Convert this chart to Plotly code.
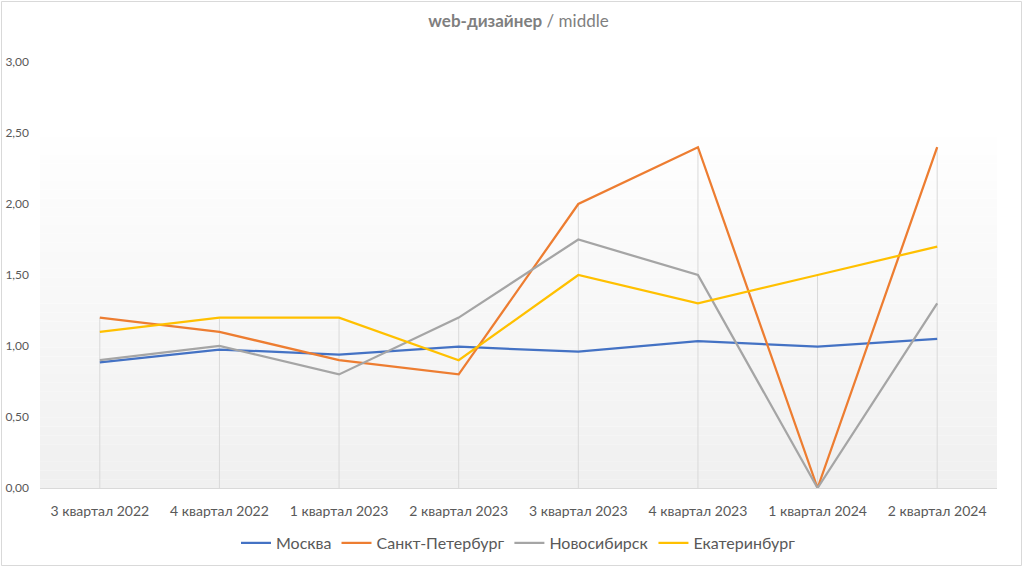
import plotly.graph_objects as go

categories = ["3 квартал 2022", "4 квартал 2022", "1 квартал 2023", "2 квартал 2023",
              "3 квартал 2023", "4 квартал 2023", "1 квартал 2024", "2 квартал 2024"]
moskva = [0.885, 0.975, 0.94, 0.995, 0.96, 1.035, 0.995, 1.05]
spb = [1.2, 1.1, 0.9, 0.8, 2.0, 2.4, 0.0, 2.4]
novosib = [0.9, 1.0, 0.8, 1.2, 1.75, 1.5, 0.0, 1.3]
ekb = [1.1, 1.2, 1.2, 0.9, 1.5, 1.3, 1.5, 1.7]
y_ticks = [0, 0.5, 1.0, 1.5, 2.0, 2.5, 3.0]

series = [
    ("Москва", moskva, "#4472C4"),
    ("Санкт-Петербург", spb, "#ED7D31"),
    ("Новосибирск", novosib, "#A5A5A5"),
    ("Екатеринбург", ekb, "#FFC000"),
]

W, H = 1024, 568
ML, MR, MT, MB = 40, 27, 62, 80

fig = go.Figure()

# drop lines from axis to highest value in each category
dx, dy = [], []
for i, c in enumerate(categories):
    top = max(s[1][i] for s in series)
    dx += [c, c, None]
    dy += [0, top, None]
fig.add_trace(go.Scatter(x=dx, y=dy, mode="lines", line=dict(color="#d9d9d9", width=1),
                         showlegend=False, hoverinfo="skip"))

for name, vals, col in series:
    fig.add_trace(go.Scatter(x=categories, y=vals, mode="lines", name=name,
                             line=dict(color=col, width=2.25)))

# gradient plot-area background (bands)
shapes = []
n = 40
top_val = 2.47
for k in range(n):
    y0 = top_val * k / n
    y1 = top_val * (k + 1) / n
    t = k / (n - 1)
    v = int(round(240 + (254 - 240) * t))
    shapes.append(dict(type="rect", xref="paper", yref="y", x0=0, x1=1, y0=y0, y1=y1,
                       fillcolor=f"rgb({v},{v},{v})", line=dict(width=0), layer="below"))
# outer border
pw = W - ML - MR
ph = H - MT - MB
shapes.append(dict(type="rect", xref="paper", yref="paper",
                   x0=(1.5 - ML) / pw, x1=(W - 2.5 - ML) / pw,
                   y0=-(H - 2.5 - MT - ph) / ph, y1=1 + (MT - 1.5) / ph,
                   line=dict(color="#d9d9d9", width=1), layer="below"))

fig.update_layout(
    width=W, height=H,
    margin=dict(l=ML, r=MR, t=MT, b=MB, autoexpand=False),
    paper_bgcolor="white", plot_bgcolor="rgba(0,0,0,0)",
    separators=", ",
    font=dict(family="Lato, 'Open Sans', sans-serif", color="#595959"),
    title=dict(text="<b>web-дизайнер</b> / middle", x=0.5, xref="paper", xanchor="center",
               y=1 - 21 / H, yanchor="middle",
               font=dict(size=17, color="#7f7f7f")),
    shapes=shapes,
    showlegend=True,
    legend=dict(orientation="h", x=0.5, xanchor="center", yref="container",
                y=1 - 543 / H, yanchor="middle", font=dict(size=16, color="#595959"),
                bgcolor="rgba(0,0,0,0)"),
    xaxis=dict(range=[-0.5, 7.5], showgrid=False, zeroline=False, automargin=False,
               showline=True, linecolor="#d9d9d9", linewidth=1,
               ticks="", tickfont=dict(size=14, color="#595959"), ticklabelstandoff=10),
    yaxis=dict(range=[0, 3], tickvals=y_ticks, tickformat=".2f", showgrid=False,
               zeroline=False, showline=False, ticks="", automargin=False,
               tickfont=dict(size=12, color="#595959"), ticklabelstandoff=10),
)

fig.write_html("out.html")
